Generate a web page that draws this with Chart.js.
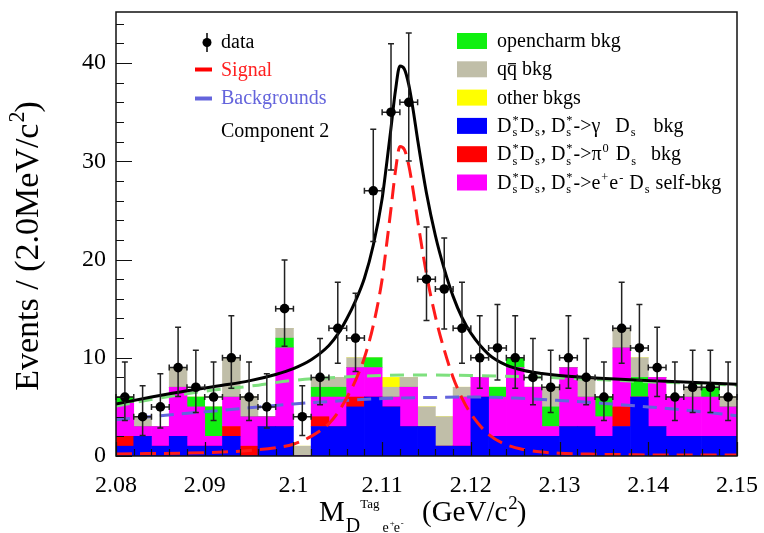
<!DOCTYPE html>
<html>
<head>
<meta charset="utf-8">
<script src="https://cdn.jsdelivr.net/npm/chart.js@4.4.1/dist/chart.umd.min.js"></script>
<style>
  html, body { margin: 0; padding: 0; background: #fff; }
  canvas { display: block; }
</style>
</head>
<body>
<canvas id="fitChart" width="764" height="533"></canvas>
<script>
// 2 MeV bins between 2.08 and 2.15 GeV/c^2
const binWidth = 0.002;
const binCenters = [
  2.081, 2.083, 2.085, 2.087, 2.089, 2.091, 2.093, 2.095, 2.097, 2.099,
  2.101, 2.103, 2.105, 2.107, 2.109, 2.111, 2.113, 2.115, 2.117, 2.119,
  2.121, 2.123, 2.125, 2.127, 2.129, 2.131, 2.133, 2.135, 2.137, 2.139,
  2.141, 2.143, 2.145, 2.147, 2.149
];

// observed events and their 68% Poisson intervals
const dataCounts = [6, 4, 5, 9, 7, 6, 10, 6, 5, 15, 4, 8, 13, 12, 27, 35, 36, 18, 17, 13,
  10, 11, 10, 8, 7, 10, 8, 6, 13, 11, 9, 6, 7, 7, 6];
const dataLow = [3.62, 2.09, 2.84, 6.06, 4.42, 3.62, 6.89, 3.62, 2.84, 11.17,
  2.09, 5.23, 9.44, 8.59, 21.84, 29.12, 30.03, 13.80, 12.92, 9.44,
  6.89, 7.73, 6.89, 5.23, 4.42, 6.89, 5.23, 3.62, 9.44, 7.73,
  6.06, 3.62, 4.42, 4.42, 3.62];
const dataHigh = [9.58, 7.16, 8.38, 13.11, 10.77, 9.58, 14.27, 9.58, 8.38, 19.96,
  7.16, 11.95, 17.70, 16.56, 33.27, 41.98, 43.06, 23.32, 22.20, 17.70,
  14.27, 15.42, 14.27, 11.95, 10.77, 14.27, 11.95, 9.58, 17.70, 15.42,
  13.11, 9.58, 10.77, 10.77, 9.58];

// MC background components, stacked bottom to top
const gammaBkg = [1, 2, 1, 2, 1, 1, 2, 0, 3, 3, 0, 3, 3, 5, 6, 5, 3, 3, 1, 1,
  6, 2, 2, 2, 2, 3, 3, 2, 3, 6, 3, 2, 2, 2, 2];
const pi0Bkg = [1, 0, 0, 0, 0, 0, 1, 1, 0, 0, 0, 1, 0, 1, 0, 0, 0, 0, 0, 0,
  0, 0, 0, 0, 0, 0, 0, 0, 2, 0, 0, 0, 0, 0, 0];
const selfBkg = [3.4, 1, 2, 5, 4, 1, 3, 3, 1, 8, 0, 2, 3, 3, 3, 1, 4, 0, 0, 5,
  2, 4, 7, 5, 1, 6, 3, 2, 6, 0, 5, 4, 4, 4, 3];
const openCharmBkg = [0.6, 0, 0, 0, 1, 3, 0, 0, 0, 1, 0, 1, 1, 0, 1, 0, 0, 0, 0, 0,
  0, 1, 1, 0, 2, 0, 0, 2, 0, 2, 0, 0, 0, 1, 0];
const qqBkg = [0, 1, 0, 2, 0, 0, 4, 2, 0, 1, 1, 1, 1, 1, 0, 1, 1, 2, 3, 1,
  0, 0, 0, 0, 2, 0, 2, 0, 2, 2, 0, 0, 1, 0, 1];
const otherBkg = [0, 0, 0, 0, 0, 0, 0, 0, 0, 0, 0, 0, 0, 0, 0, 1, 0, 0, 0, 0,
  0, 0, 0, 0, 0, 0, 0, 0, 0, 0, 0, 0, 0, 0, 0];

// fit curves: signal and total on a grid that is finer around the peak
const curveMass = [2.080, 2.084, 2.088, 2.092, 2.095, 2.098, 2.100, 2.102, 2.104, 2.105,
  2.106, 2.107, 2.108, 2.109, 2.110, 2.1105, 2.111, 2.1115, 2.112, 2.1125,
  2.113, 2.1135, 2.114, 2.115, 2.116, 2.117, 2.118, 2.119, 2.120, 2.122,
  2.124, 2.126, 2.128, 2.130, 2.134, 2.138, 2.142, 2.146, 2.150];
const signalCurve = [0.2, 0.25, 0.3, 0.4, 0.55, 0.85, 1.2, 2.0, 3.3, 4.4,
  5.9, 7.7, 10.0, 13.3, 18.0, 21.5, 25.2, 29.0, 31.5, 31.2,
  29.6, 27.0, 24.0, 18.5, 14.2, 10.8, 8.0, 5.9, 4.3, 2.2,
  1.15, 0.65, 0.4, 0.28, 0.18, 0.13, 0.1, 0.1, 0.1];
const totalCurve = [5.3, 6.0, 6.65, 7.2, 7.65, 8.3, 8.9, 9.8, 11.25, 12.4,
  13.95, 15.8, 18.1, 21.45, 26.2, 29.7, 33.4, 37.2, 39.7, 39.4,
  37.8, 35.2, 32.2, 26.75, 22.45, 19.05, 16.25, 14.1, 12.5, 10.35,
  9.25, 8.7, 8.4, 8.2, 7.95, 7.75, 7.6, 7.45, 7.3];

// smooth background shapes
const bkgMass = [2.080, 2.085, 2.090, 2.095, 2.100, 2.105, 2.110, 2.115,
  2.120, 2.125, 2.130, 2.135, 2.140, 2.145, 2.150];
const comp2Curve = [5.1, 5.9, 6.6, 7.1, 7.7, 8.0, 8.2, 8.25, 8.2, 8.1, 7.95, 7.75, 7.55, 7.4, 7.2];
const bkgCurve = [3.7, 4.1, 4.5, 4.9, 5.3, 5.6, 5.85, 5.95, 6.0, 5.9, 5.65, 5.35, 5.0, 4.6, 4.1];

const xTicks = [2.08, 2.09, 2.1, 2.11, 2.12, 2.13, 2.14, 2.15];
const yTicks = [0, 10, 20, 30, 40];

const SERIF = '"Liberation Serif", "Times New Roman", serif';
const font = size => size + 'px ' + SERIF;

const colors = {
  gamma: '#0000ff',
  pi0: '#ff0000',
  self: '#ff00ff',
  openCharm: '#10f010',
  qq: '#c0bea8',
  other: '#ffff00'
};

const points = (xs, ys) => xs.map((x, i) => ({ x: x, y: ys[i] }));

const stackDefs = [
  ['gamma', gammaBkg, colors.gamma],
  ['pi0', pi0Bkg, colors.pi0],
  ['self', selfBkg, colors.self],
  ['openCharm', openCharmBkg, colors.openCharm],
  ['qq', qqBkg, colors.qq],
  ['other', otherBkg, colors.other]
];

const barSets = stackDefs.map(([label, vals, color]) => ({
  type: 'bar',
  label: label,
  data: points(binCenters, vals),
  backgroundColor: color,
  borderWidth: 0,
  barPercentage: 1,
  categoryPercentage: 1,
  stack: 'mc',
  order: 6
}));

const curve = (label, xs, ys, color, dash, order) => ({
  type: 'line',
  label: label,
  data: points(xs, ys),
  borderColor: color,
  borderWidth: 3,
  borderDash: dash,
  pointRadius: 0,
  fill: false,
  cubicInterpolationMode: 'monotone',
  stack: label,
  order: order
});

// rich text with sub/superscripts, used for legend and axis titles
// parts: plain strings, {bar} overlined letter, {sup, sub} scripts, {space} extra px
function drawRich(ctx, x, y, size, parts, color, measureOnly) {
  const start = x;
  ctx.save();
  ctx.fillStyle = color;
  ctx.strokeStyle = color;
  ctx.textAlign = 'left';
  ctx.textBaseline = 'alphabetic';
  for (const p of parts) {
    if (typeof p === 'string') {
      ctx.font = font(size);
      if (!measureOnly) ctx.fillText(p, x, y);
      x += ctx.measureText(p).width;
    } else if (p.space) {
      x += p.space;
    } else if (p.bar) {
      ctx.font = font(size);
      const w = ctx.measureText(p.bar).width;
      if (!measureOnly) {
        ctx.fillText(p.bar, x, y);
        ctx.lineWidth = 1.2;
        ctx.beginPath();
        ctx.moveTo(x + 1, y - size * 0.58);
        ctx.lineTo(x + w - 1, y - size * 0.58);
        ctx.stroke();
      }
      x += w;
    } else {
      const small = size * (p.scale || 0.62);
      ctx.font = font(small);
      let w = 0;
      if (p.sup) {
        if (!measureOnly) ctx.fillText(p.sup, x + 1, y - size * 0.4);
        w = Math.max(w, ctx.measureText(p.sup).width);
      }
      if (p.sub) {
        if (!measureOnly) ctx.fillText(p.sub, x + 1, y + size * 0.22);
        w = Math.max(w, ctx.measureText(p.sub).width);
      }
      x += w + (p.gap === undefined ? 2 : p.gap);
    }
  }
  ctx.restore();
  return x - start;
}

const whiteBackground = {
  id: 'whiteBackground',
  beforeDraw(chart) {
    const ctx = chart.ctx;
    ctx.save();
    ctx.fillStyle = '#fff';
    ctx.fillRect(0, 0, chart.width, chart.height);
    ctx.restore();
  }
};

const errorBars = {
  id: 'errorBars',
  beforeDatasetDraw(chart, args) {
    if (chart.data.datasets[args.index].label !== 'data') return;
    const { ctx, scales: { x, y } } = chart;
    ctx.save();
    ctx.strokeStyle = '#222';
    ctx.lineWidth = 1.5;
    binCenters.forEach((m, i) => {
      const px = x.getPixelForValue(m);
      const py = y.getPixelForValue(dataCounts[i]);
      const lo = y.getPixelForValue(dataLow[i]);
      const hi = y.getPixelForValue(dataHigh[i]);
      const l = x.getPixelForValue(m - binWidth / 2);
      const r = x.getPixelForValue(m + binWidth / 2);
      ctx.beginPath();
      ctx.moveTo(px, lo); ctx.lineTo(px, hi);
      ctx.moveTo(px - 3, lo); ctx.lineTo(px + 3, lo);
      ctx.moveTo(px - 3, hi); ctx.lineTo(px + 3, hi);
      ctx.moveTo(l, py); ctx.lineTo(r, py);
      ctx.moveTo(l, py - 3); ctx.lineTo(l, py + 3);
      ctx.moveTo(r, py - 3); ctx.lineTo(r, py + 3);
      ctx.stroke();
    });
    ctx.restore();
  }
};

// ROOT style frame with ticks on the inside
const frame = {
  id: 'frame',
  afterDatasetsDraw(chart) {
    const { ctx, chartArea: a, scales: { x, y } } = chart;
    ctx.save();
    ctx.strokeStyle = '#111';
    ctx.lineWidth = 1.2;
    ctx.beginPath();
    for (let v = 0; v <= 45; v += 2) {
      const py = Math.round(y.getPixelForValue(v)) + 0.5;
      const len = v % 10 === 0 ? 16 : 8;
      ctx.moveTo(a.left, py); ctx.lineTo(a.left + len, py);
    }
    for (let i = 0; i <= 35; i++) {
      const px = Math.round(x.getPixelForValue(2.08 + i * binWidth)) + 0.5;
      const len = i % 5 === 0 ? 14 : 7;
      ctx.moveTo(px, a.bottom); ctx.lineTo(px, a.bottom - len);
    }
    ctx.stroke();
    ctx.lineWidth = 1.5;
    ctx.strokeRect(a.left, a.top, a.right - a.left, a.bottom - a.top);
    ctx.restore();
  }
};

const annotations = {
  id: 'annotations',
  afterDraw(chart) {
    const ctx = chart.ctx;

    // left legend
    ctx.save();
    ctx.strokeStyle = '#000';
    ctx.lineWidth = 1.5;
    ctx.beginPath();
    ctx.moveTo(207, 33); ctx.lineTo(207, 52);
    ctx.stroke();
    ctx.fillStyle = '#000';
    ctx.beginPath();
    ctx.arc(207, 42.5, 4.5, 0, Math.PI * 2);
    ctx.fill();
    ctx.lineWidth = 4;
    ctx.strokeStyle = '#ff0000';
    ctx.beginPath(); ctx.moveTo(195, 69.5); ctx.lineTo(212, 69.5); ctx.stroke();
    ctx.strokeStyle = '#6464dc';
    ctx.beginPath(); ctx.moveTo(195, 98.5); ctx.lineTo(212, 98.5); ctx.stroke();
    ctx.restore();
    drawRich(ctx, 221, 48, 20, ['data'], '#000');
    drawRich(ctx, 221, 76, 20, ['Signal'], '#ff2020');
    drawRich(ctx, 221, 104, 20, ['Backgrounds'], '#6464dc');
    drawRich(ctx, 221, 137, 20, ['Component 2'], '#000');

    // right legend
    const dsPair = ['D', { sup: '*', sub: 's' }, 'D', { sub: 's' }, ', D', { sup: '*', sub: 's' }];
    const rows = [
      [colors.openCharm, ['opencharm bkg']],
      [colors.qq, ['q', { bar: 'q' }, ' bkg']],
      [colors.other, ['other bkgs']],
      [colors.gamma, [...dsPair, '->γ', { space: 10 }, ' D', { sub: 's' }, { space: 12 }, ' bkg']],
      [colors.pi0, [...dsPair, '->π', { sup: '0' }, { space: 6 }, 'D', { sub: 's' }, { space: 9 }, ' bkg']],
      [colors.self, [...dsPair, '->e', { sup: '+' }, 'e', { sup: '-' }, ' D', { sub: 's' }, ' self-bkg']]
    ];
    rows.forEach(([color, parts], i) => {
      const cy = 41 + i * 28.3;
      ctx.fillStyle = color;
      ctx.fillRect(457, cy - 8, 30, 16);
      drawRich(ctx, 497, cy + 6, 20, parts, '#000');
    });

    // axis titles
    const yTitle = ['Events / (2.0MeV/c', { sup: '2', scale: 0.65, gap: 0 }, ')'];
    const yw = drawRich(ctx, 0, 0, 34, yTitle, '#000', true);
    ctx.save();
    ctx.translate(38, 246);
    ctx.rotate(-Math.PI / 2);
    drawRich(ctx, -yw / 2, 0, 34, yTitle, '#000');
    ctx.restore();

    let x = 319;
    x += drawRich(ctx, x, 521, 29, ['M'], '#000');
    x += drawRich(ctx, x + 1, 532, 20, ['D'], '#000') + 1;
    x += drawRich(ctx, x, 508, 13, ['Tag'], '#000') + 3;
    drawRich(ctx, x, 532, 14, ['e', { sup: '+', gap: 0 }, 'e', { sup: '-', gap: 0 }], '#000');
    drawRich(ctx, 422, 521, 29, ['(GeV/c', { sup: '2', scale: 0.65, gap: 0 }, ')'], '#000');
  }
};

Chart.defaults.font.family = SERIF;

// fixed plot frame: y axis 116 px wide, x axis 77 px tall
const noPad = s => { s.paddingLeft = 0; s.paddingRight = 0; s.paddingTop = 0; s.paddingBottom = 0; };

new Chart(document.getElementById('fitChart'), {
  type: 'bar',
  data: {
    datasets: [
      ...barSets,
      curve('component2', bkgMass, comp2Curve, '#7ee07e', [14, 9], 4),
      curve('backgrounds', bkgMass, bkgCurve, '#6464dc', [14, 8], 3),
      curve('signal', curveMass, signalCurve, '#ff1a1a', [16, 8], 2),
      curve('total', curveMass, totalCurve, '#000000', [], 1),
      {
        type: 'line',
        label: 'data',
        data: points(binCenters, dataCounts),
        showLine: false,
        pointRadius: 4.8,
        pointBackgroundColor: '#000',
        pointBorderWidth: 0,
        stack: 'data',
        order: 0
      }
    ]
  },
  options: {
    responsive: false,
    animation: false,
    devicePixelRatio: 1,
    layout: { padding: { top: 12, right: 27, left: 0, bottom: 0 } },
    plugins: { legend: { display: false }, tooltip: { enabled: false } },
    scales: {
      x: {
        type: 'linear',
        min: 2.08,
        max: 2.15,
        offset: false,
        grid: { display: false, drawTicks: false },
        border: { display: false },
        afterBuildTicks: s => { s.ticks = xTicks.map(v => ({ value: v })); },
        afterFit: s => { s.height = 77; noPad(s); },
        ticks: {
          autoSkip: false,
          maxRotation: 0,
          padding: 15,
          color: '#000',
          font: { size: 24, family: SERIF },
          callback: v => String(Number(v.toFixed(3)))
        }
      },
      y: {
        type: 'linear',
        min: 0,
        max: 45.2,
        stacked: true,
        grid: { display: false, drawTicks: false },
        border: { display: false },
        afterBuildTicks: s => { s.ticks = yTicks.map(v => ({ value: v })); },
        afterFit: s => { s.width = 116; noPad(s); },
        ticks: {
          padding: 10,
          color: '#000',
          font: { size: 24, family: SERIF },
          callback: v => String(v)
        }
      }
    }
  },
  plugins: [whiteBackground, errorBars, frame, annotations]
});
</script>
</body>
</html>
